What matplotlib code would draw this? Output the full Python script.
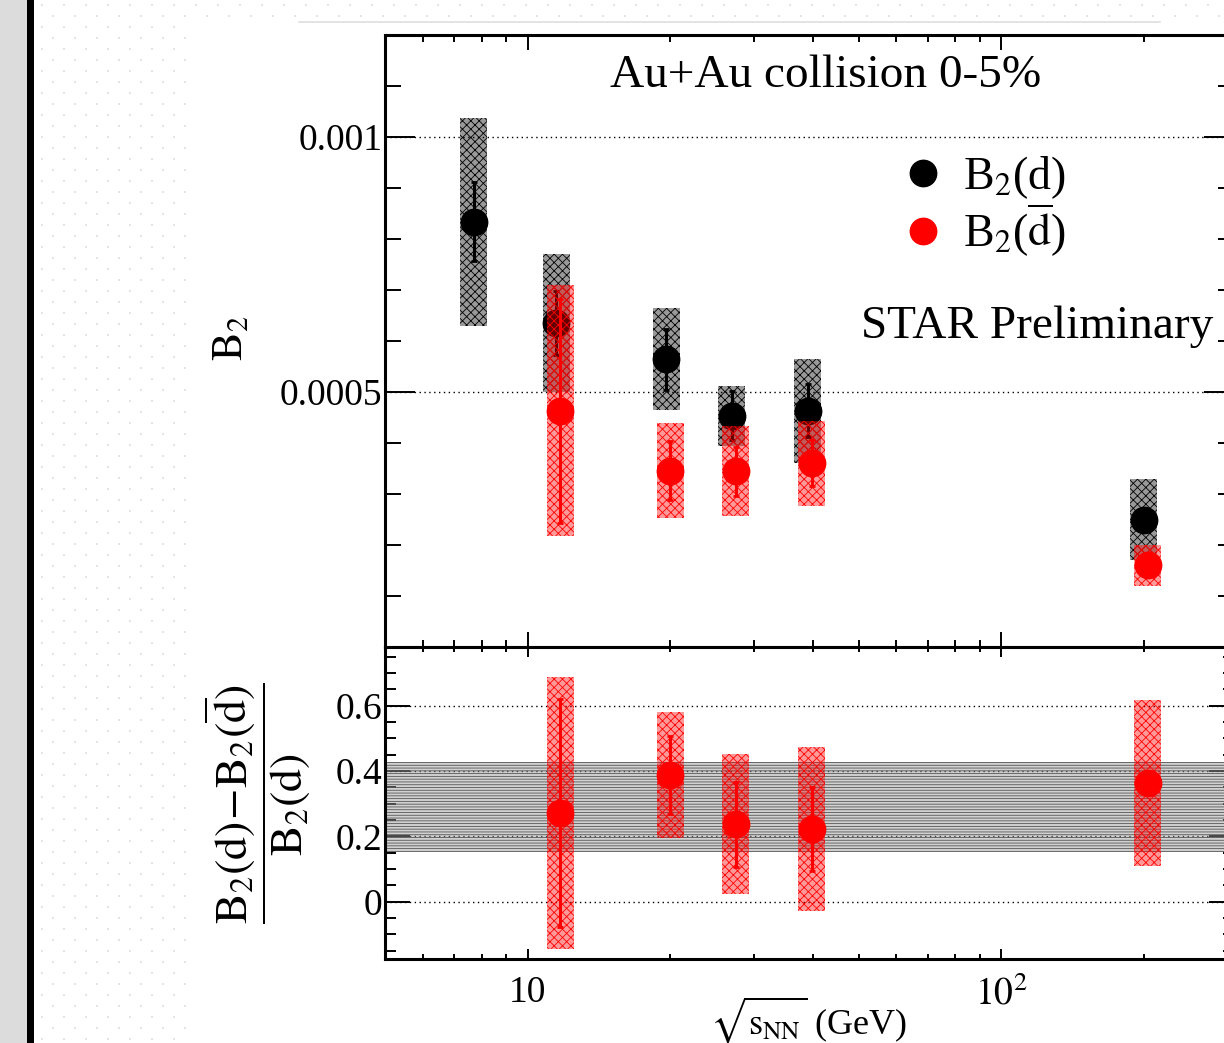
import numpy as np
import matplotlib
matplotlib.use("Agg")
import matplotlib.pyplot as plt
from matplotlib.patches import Rectangle
from matplotlib.lines import Line2D
from matplotlib.ticker import FixedLocator, MultipleLocator, LogLocator, NullFormatter, FuncFormatter

plt.rcParams["font.family"] = ["Liberation Serif", "DejaVu Serif"]
plt.rcParams["mathtext.fontset"] = "stix"
plt.rcParams["hatch.linewidth"] = 0.6

# collision energies sqrt(s_NN) in GeV
energy_d = [7.7, 11.5, 19.6, 27.0, 39.0, 200.0]
energy_dbar = [11.5, 19.6, 27.0, 39.0, 200.0]

# B2 of deuterons: value, stat. error, syst. error
b2_d = [0.000834, 0.000635, 0.000564, 0.000453, 0.000463, 0.000250]
b2_d_stat = [0.000078, 0.000063, 0.000060, 0.000048, 0.000052, 0.000020]
b2_d_sys = [0.000204, 0.000135, 0.000100, 0.000059, 0.000102, 0.000080]

# B2 of anti-deuterons
b2_dbar = [0.000463, 0.000346, 0.000345, 0.000360, 0.000160]
b2_dbar_stat = [0.000220, 0.000058, 0.000048, 0.000045, 0.000010]
b2_dbar_sys = [0.000246, 0.000093, 0.000088, 0.000084, 0.000040]

# relative difference (B2(d) - B2(dbar)) / B2(d)
rel_diff = [0.272, 0.388, 0.238, 0.223, 0.363]
rel_diff_stat = [0.350, 0.120, 0.130, 0.130, 0.030]
rel_diff_sys = [0.417, 0.194, 0.215, 0.250, 0.254]

# average relative difference and its uncertainty band
rel_diff_mean = 0.29
rel_diff_mean_err = 0.137

W, H = 1224, 1043
BOX_HALF = 10 ** 0.0285   # half width of syst. boxes (log scale)
DBAR_SHIFT = 1.02         # small x offset so anti-d points don't overlap d


def fx(px):
    return px / W


def fy(py):
    return 1 - py / H


def sys_boxes(ax, xs, ys, errs, color, z):
    for x, y, e in zip(xs, ys, errs):
        ax.add_patch(Rectangle((x / BOX_HALF, y - e), x * BOX_HALF - x / BOX_HALF, 2 * e,
                               facecolor=(*matplotlib.colors.to_rgb(color), 0.4),
                               edgecolor=color, hatch="xxxx", linewidth=0, zorder=z))


def style_axes(ax, ymaj, ymin_, xmaj, xmin_):
    for s in ax.spines.values():
        s.set_linewidth(2.2)
    ax.set_xscale("log")
    ax.set_xlim(5, 310)
    ax.xaxis.set_major_locator(FixedLocator([10, 100]))
    ax.xaxis.set_minor_locator(LogLocator(base=10, subs=np.arange(2, 10)))
    ax.xaxis.set_minor_formatter(NullFormatter())
    ax.tick_params(which="both", direction="in", top=True, right=True, width=1.4, labelsize=27)
    ax.tick_params(axis="y", which="major", length=ymaj, pad=2)
    ax.tick_params(axis="y", which="minor", length=ymin_)
    ax.tick_params(axis="x", which="major", length=xmaj, pad=12)
    ax.tick_params(axis="x", which="minor", length=xmin_)
    ax.set_axisbelow(True)
    ax.yaxis.grid(True, which="major", color="black", linestyle=(0, (1, 2.5)), linewidth=1.0)


fig = plt.figure(figsize=(W / 100, H / 100), dpi=100)

# slide background: grey strip, dark bar, faint dot pattern
bg = fig.add_axes([0, 0, 1, 1], zorder=-10)
bg.set_xlim(0, W)
bg.set_ylim(H, 0)
bg.axis("off")
bg.add_patch(Rectangle((0, 0), 27, H, color="#dcdcdc", linewidth=0))
bg.add_patch(Rectangle((27, 0), 7, H, color="black", linewidth=0))
rows = np.arange(5, H, 11)
dot_x, dot_y = [], []
for i, ry in enumerate(rows):
    start = 42 if i % 2 == 0 else 53
    right = 190 if ry > 20 else W
    cols = np.arange(start, right, 22)
    dot_x.extend(cols)
    dot_y.extend([ry] * len(cols))
bg.scatter(dot_x, dot_y, s=2.5, marker="s", color="#e3e3e3", linewidths=0)
bg.plot([299, 1160], [22, 22], color="#dedede", linewidth=1.2)

ax_top = fig.add_axes([fx(385), fy(647), (1234 - 385) / W, (647 - 35) / H])
ax_bot = fig.add_axes([fx(385), fy(959), (1234 - 385) / W, (959 - 647) / H])

# upper panel: B2 vs energy
style_axes(ax_top, 21.6, 11.5, 10.8, 5.0)
ax_top.set_ylim(0, 0.0012)
ax_top.yaxis.set_major_locator(FixedLocator([0.0005, 0.001]))
ax_top.yaxis.set_minor_locator(MultipleLocator(0.0001))
ax_top.yaxis.set_major_formatter(FuncFormatter(lambda v, p: f"{v:g}"))
ax_top.tick_params(axis="x", labelbottom=False)

sys_boxes(ax_top, energy_d, b2_d, b2_d_sys, "black", 2)
ax_top.errorbar(energy_d, b2_d, yerr=b2_d_stat, fmt="o", ms=19, color="black",
                elinewidth=2.2, capsize=2.5, capthick=2.0, zorder=3)
x_dbar = [e * DBAR_SHIFT for e in energy_dbar]
sys_boxes(ax_top, x_dbar, b2_dbar, b2_dbar_sys, "red", 4)
ax_top.errorbar(x_dbar, b2_dbar, yerr=b2_dbar_stat, fmt="o", ms=19, color="red",
                elinewidth=2.2, capsize=2.5, capthick=2.0, zorder=5)

ax_top.text(0.519, 0.934, "Au+Au collision 0-5%", transform=ax_top.transAxes,
            fontsize=34, ha="center", va="center")
ax_top.text(0.768, 0.523, "STAR Preliminary", transform=ax_top.transAxes,
            fontsize=34, ha="center", va="center")

handles = [Line2D([], [], marker="o", ms=19, color="black", linestyle="none"),
           Line2D([], [], marker="o", ms=19, color="red", linestyle="none")]
ax_top.legend(handles, [r"B$_2$(d)", r"B$_2$($\overline{\mathrm{d}}$)"],
              loc="upper left", bbox_to_anchor=(0.607, 0.806), frameon=False,
              fontsize=33, handlelength=1.0, handletextpad=0.37, labelspacing=0.02,
              borderpad=0, borderaxespad=0)

# lower panel: relative difference
style_axes(ax_bot, 18.0, 8.0, 7.2, 3.6)
ax_bot.set_ylim(-0.175, 0.78)
ax_bot.yaxis.set_major_locator(MultipleLocator(0.2))
ax_bot.yaxis.set_minor_locator(MultipleLocator(0.05))
ax_bot.yaxis.set_major_formatter(FuncFormatter(lambda v, p: f"{v:g}"))
ax_bot.xaxis.set_major_formatter(FuncFormatter(lambda v, p: "10" if v < 50 else r"$10^{2}$"))

ax_bot.axhspan(rel_diff_mean - rel_diff_mean_err, rel_diff_mean + rel_diff_mean_err,
               facecolor=(0.6, 0.6, 0.6, 0.45), edgecolor="#555555", hatch="------",
               linewidth=0, zorder=1)
sys_boxes(ax_bot, x_dbar, rel_diff, rel_diff_sys, "red", 2)
ax_bot.errorbar(x_dbar, rel_diff, yerr=rel_diff_stat, fmt="o", ms=19, color="red",
                elinewidth=2.2, capsize=2.5, capthick=2.0, zorder=3)

fig.text(fx(231), fy(338), r"$\mathrm{B_{2}}$", rotation=90, fontsize=31,
         ha="center", va="center")
fig.text(fx(257), fy(803), r"$\dfrac{\mathrm{B_2(d)\!-\!B_2(\overline{d})}}{\mathrm{B_2(d)}}$",
         rotation=90, fontsize=33, ha="center", va="center")
fig.text(fx(809), fy(1020), r"$\sqrt{\mathrm{s_{NN}}}$ (GeV)", fontsize=26,
         ha="center", va="center")

fig.savefig("out.png", dpi=100, facecolor="white")
